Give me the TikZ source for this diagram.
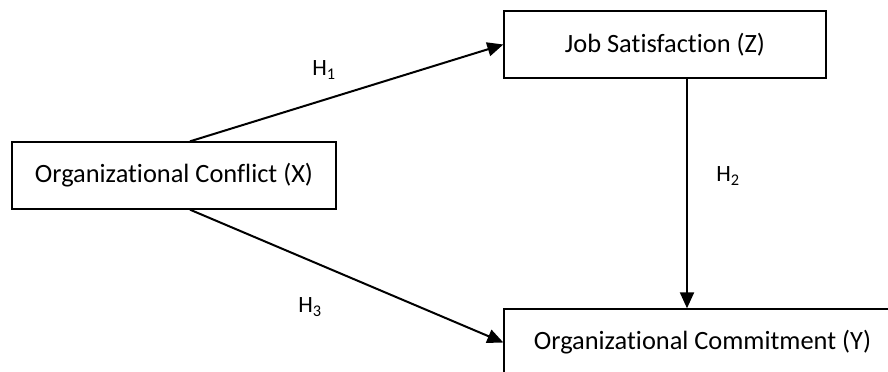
\documentclass[tikz,border=0pt]{standalone}
\usepackage{fontspec}
\setmainfont[Ligatures=NoCommon]{Carlito}
\usetikzlibrary{arrows.meta, positioning}
\tikzset{
    x=0.75pt, y=-0.75pt, % one unit is one pixel of the reference
    >={Triangle[length=12pt, width=10.5pt]}, % filled triangle heads
}
\tikzstyle{block} = [draw, line width=1pt, rectangle, minimum height=50.25pt, font=\fontsize{19.8}{24}\selectfont]
\tikzstyle{arrow} = [line width=1.5pt, ->]
\tikzstyle{hyp} = [font=\fontsize{17.5}{20}\selectfont]

\begin{document}
\begin{tikzpicture}
    \useasboundingbox (0,0) rectangle (888,371);
    \node[block, minimum width=243pt] (X) at (174,175.5) {Organizational Conflict (X)};
    \node[block, minimum width=241.5pt] (Z) at (665,44.5) {Job Satisfaction (Z)};
    \node[block, minimum width=297.75pt] (Y) at (702.5,342.5) {Organizational Commitment (Y)};
    \coordinate (h2x) at (687,0);

    \draw[arrow] ([xshift=12pt]X.north) -- (Z.west);
    \draw[arrow] (h2x |- Z.south) -- (h2x |- Y.north);
    \draw[arrow] ([xshift=12pt]X.south) -- (Y.west);

    \node[hyp] (h1) at (324,70) {H\textsubscript{1}};
    \node[hyp] (h2) at (728,176) {H\textsubscript{2}};
    \node[hyp] (h3) at (310,307) {H\textsubscript{3}};
\end{tikzpicture}
\end{document}
